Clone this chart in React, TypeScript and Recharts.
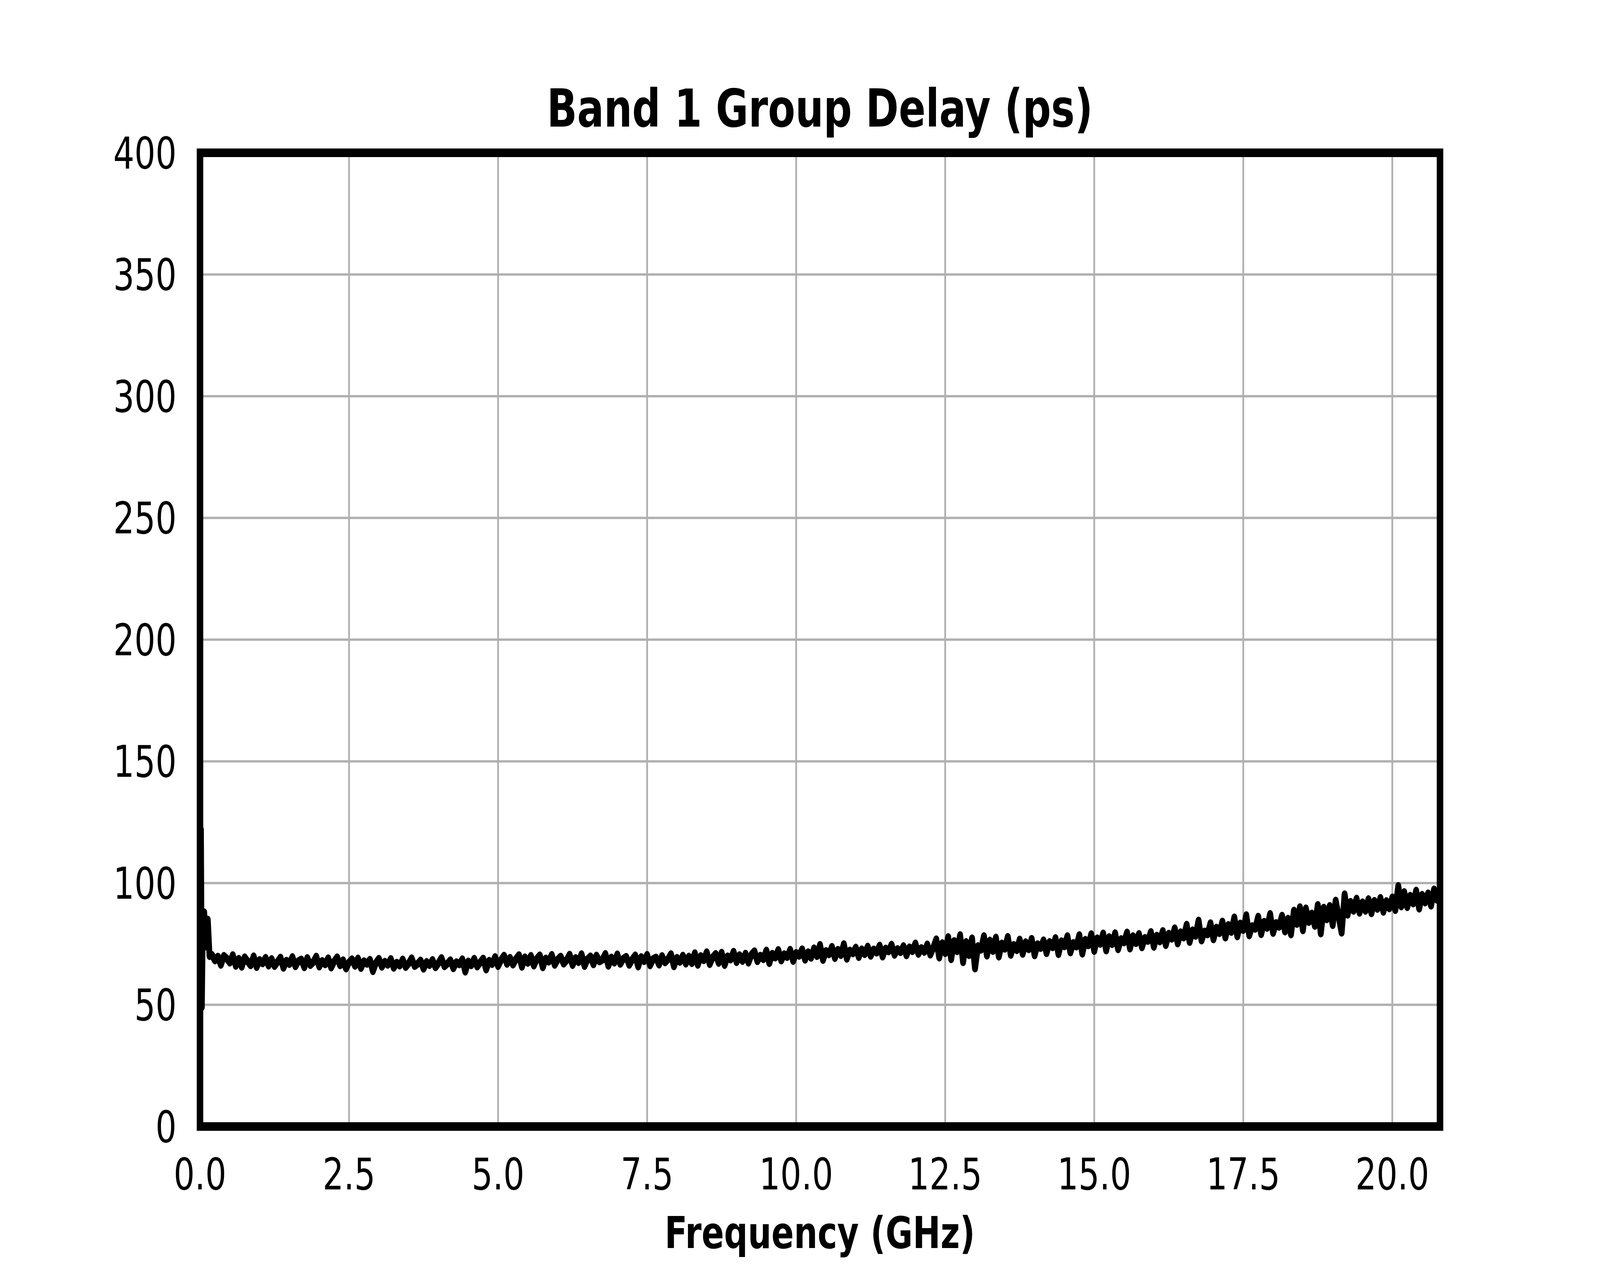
import React from 'react';
import { LineChart, Line, XAxis, YAxis, CartesianGrid, ReferenceArea } from 'recharts';

// ---- data ----
const TITLE = 'Band 1 Group Delay (ps)';
const X_LABEL = 'Frequency (GHz)';
const xTicks = [0, 2.5, 5, 7.5, 10, 12.5, 15, 17.5, 20];
const yTicks = [0, 50, 100, 150, 200, 250, 300, 350, 400];
const X_MAX = 20.8;
const STEP_GHZ = 0.05;

// first few sweep points (spike at DC)
const startFreqGHz = [0, 0.015, 0.03, 0.045, 0.07, 0.1, 0.13, 0.16];
const startDelayPs = [72, 122, 49, 80, 88, 74, 85, 70];

// 0.20 .. 5.15 GHz
const bandAStart = 0.2;
const bandADelay = [
  70.5, 68.2, 69.8, 66.4, 70.1, 69.0, 67.3, 70.4, 66.0, 68.9, 65.6, 69.5, 67.8, 66.2, 69.9, 65.5, 68.4, 67.0, 69.3, 66.1,
  68.8, 65.9, 67.6, 69.4, 65.2, 68.1, 66.7, 69.6, 65.8, 67.9, 68.6, 65.4, 69.2, 66.3, 67.5, 69.8, 65.7, 68.0, 66.6, 69.1,
  65.3, 67.8, 69.5, 66.2, 68.3, 64.9, 67.4, 68.7, 66.0, 69.0, 65.1, 67.9, 66.8, 68.5, 63.8, 67.2, 68.9, 65.6, 67.7, 66.4,
  68.8, 65.2, 67.3, 66.1, 68.6, 65.5, 67.0, 69.1, 65.9, 66.8, 68.2, 64.8, 67.6, 66.3, 68.4, 65.4, 67.1, 69.2, 65.8, 66.9,
  68.3, 65.0, 67.5, 66.6, 68.7, 63.6, 67.8, 66.2, 68.9, 65.7, 67.4, 69.0, 64.5, 68.1, 66.7, 69.6, 65.9, 68.4, 70.2, 66.8,
];

// 5.20 .. 10.15 GHz
const bandBStart = 5.2;
const bandBDelay = [
  69.3, 66.5, 68.8, 70.4, 65.6, 69.5, 67.2, 70.1, 66.1, 68.9, 70.3, 65.4, 69.0, 67.7, 70.5, 66.4, 68.6, 69.8, 66.9, 68.3,
  70.6, 66.3, 69.2, 67.5, 70.8, 65.9, 68.7, 69.9, 66.6, 70.2, 67.8, 68.5, 70.9, 66.0, 69.4, 67.3, 70.7, 66.8, 68.9, 69.7,
  66.4, 68.6, 70.3, 65.7, 69.6, 67.9, 70.5, 66.2, 68.8, 69.4, 66.5, 70.0, 67.4, 68.7, 70.8, 65.8, 69.3, 67.6, 70.2, 66.9,
  69.8, 67.1, 71.2, 66.4, 70.0, 68.3, 71.6, 66.7, 69.5, 70.9, 67.2, 71.4, 66.3, 69.9, 68.6, 71.8, 67.5, 70.4, 68.0, 71.0,
  67.3, 70.6, 72.0, 67.9, 70.2, 68.7, 72.3, 67.1, 71.0, 69.4, 72.5, 68.2, 70.8, 69.6, 72.6, 68.0, 71.3, 70.1, 72.8, 68.5,
];

// 10.20 .. 15.15 GHz
const bandCStart = 10.2;
const bandCDelay = [
  71.6, 69.3, 73.2, 70.0, 74.6, 68.4, 72.1, 70.7, 73.8, 69.2, 72.6, 70.4, 74.9, 68.9, 72.3, 71.1, 73.5, 69.6, 72.8, 70.8,
  73.9, 70.1, 72.7, 71.4, 74.3, 69.8, 73.1, 71.9, 74.7, 70.5, 72.9, 71.6, 74.1, 70.3, 73.6, 72.0, 75.2, 70.9, 73.3, 71.7,
  74.8, 70.6, 73.4, 76.9, 69.4, 75.3, 71.2, 77.8, 68.7, 76.2, 72.0, 78.6, 67.5, 75.8, 70.4, 77.3, 64.9, 74.1, 72.6, 78.2,
  70.2, 76.4, 72.1, 77.6, 69.8, 75.2, 73.0, 77.9, 70.5, 74.6, 72.4, 76.8, 70.9, 75.7, 72.8, 77.1, 70.3, 74.9, 73.3, 76.5,
  71.2, 75.8, 73.6, 77.4, 70.8, 76.1, 74.0, 78.2, 71.5, 75.4, 73.9, 78.6, 71.0, 76.7, 74.4, 79.0, 72.1, 77.3, 75.0, 79.3,
];

// 15.20 .. 20.15 GHz
const bandDStart = 15.2;
const bandDDelay = [
  72.3, 77.8, 74.9, 79.4, 72.8, 77.0, 75.6, 79.7, 73.1, 78.2, 75.3, 79.1, 73.6, 77.5, 76.2, 79.9, 73.8, 78.4, 76.0, 80.3,
  74.5, 79.2, 77.1, 81.4, 75.2, 79.8, 77.6, 82.9, 75.8, 80.6, 78.3, 84.6, 76.4, 80.1, 78.9, 83.5, 76.9, 81.7, 79.4, 84.2,
  77.6, 82.8, 79.9, 85.9, 78.1, 83.4, 80.7, 86.8, 78.5, 82.3, 81.2, 86.2, 79.0, 84.1, 81.6, 87.3, 79.5, 83.6, 82.0, 86.6,
  80.1, 85.4, 78.9, 88.7, 83.2, 90.1, 80.6, 89.6, 84.0, 87.5, 82.4, 91.0, 79.3, 89.9, 85.1, 90.6, 82.7, 92.8, 86.3, 79.6,
  95.4, 87.0, 92.3, 88.6, 93.6, 87.8, 92.1, 88.6, 93.4, 87.6, 92.7, 89.4, 93.9, 88.2, 92.6, 89.6, 94.1, 88.9, 98.8, 90.4,
];

// 20.20 .. 20.80 GHz
const bandEStart = 20.2;
const bandEDelay = [96.3, 90.1, 94.8, 91.6, 96.9, 89.5, 95.2, 92.0, 95.8, 90.7, 97.4, 93.1, 96.0];

// ---- table for the chart ----
type Pt = { f: number; d: number };
const data: Pt[] = [];
startFreqGHz.forEach((f, i) => data.push({ f, d: startDelayPs[i] }));
const addBand = (start: number, vals: number[]) =>
  vals.forEach((d, i) => data.push({ f: Math.round((start + i * STEP_GHZ) * 1000) / 1000, d }));
addBand(bandAStart, bandADelay);
addBand(bandBStart, bandBDelay);
addBand(bandCStart, bandCDelay);
addBand(bandDStart, bandDDelay);
addBand(bandEStart, bandEDelay);

// design canvas = reference picture size
const W = 5400;
const H = 3240;
const FONT = 'DejaVu Sans';

export default function App() {
  if (typeof document !== 'undefined') {
    document.body.style.overflow = 'hidden';
  }
  const vw = typeof window !== 'undefined' ? window.innerWidth : W;
  const vh = typeof window !== 'undefined' ? window.innerHeight : H;
  const sx = Math.min(1, vw / W);
  const sy = Math.min(1, vh / H);

  return (
    <div
      style={{
        position: 'absolute',
        left: 0,
        top: 0,
        width: W,
        height: H,
        background: '#fff',
        transform: `scale(${sx}, ${sy})`,
        transformOrigin: '0 0',
      }}
    >
      <LineChart
        width={W}
        height={H}
        data={data}
        margin={{ top: 391, right: 540, bottom: 0, left: 0 }}
      >
        <CartesianGrid stroke="#b0b0b0" strokeWidth={6} />
        <XAxis
          type="number"
          dataKey="f"
          domain={[0, X_MAX]}
          ticks={xTicks}
          interval={0}
          height={357}
          axisLine={false}
          tickLine={false}
          tickSize={0}
          tickMargin={81}
          tickFormatter={(v: number) => v.toFixed(1)}
          tick={{ fontSize: 112, fill: '#000', fontFamily: FONT }}
        />
        <YAxis
          type="number"
          domain={[0, 400]}
          ticks={yTicks}
          interval={0}
          width={675}
          axisLine={false}
          tickLine={false}
          tickSize={0}
          tickMargin={79}
          tick={{ fontSize: 112, fill: '#000', fontFamily: FONT }}
        />
        <Line
          type="linear"
          dataKey="d"
          stroke="#000"
          strokeWidth={20}
          strokeLinecap="round"
          strokeLinejoin="round"
          dot={false}
          activeDot={false}
          isAnimationActive={false}
        />
        <ReferenceArea
          x1={0}
          x2={X_MAX}
          y1={0}
          y2={400}
          ifOverflow="visible"
          fill="none"
          fillOpacity={0}
          stroke="#000"
          strokeWidth={22}
          strokeOpacity={1}
        />
      </LineChart>
      <svg
        width={W}
        height={H}
        style={{ position: 'absolute', left: 0, top: 0, pointerEvents: 'none' }}
      >
        <text x={2767} y={324} textAnchor="middle" fontFamily={FONT} fontWeight="bold" fontSize={134} fill="#000">
          {TITLE}
        </text>
        <text x={2767} y={3194} textAnchor="middle" fontFamily={FONT} fontWeight="bold" fontSize={112} fill="#000">
          {X_LABEL}
        </text>
      </svg>
    </div>
  );
}
